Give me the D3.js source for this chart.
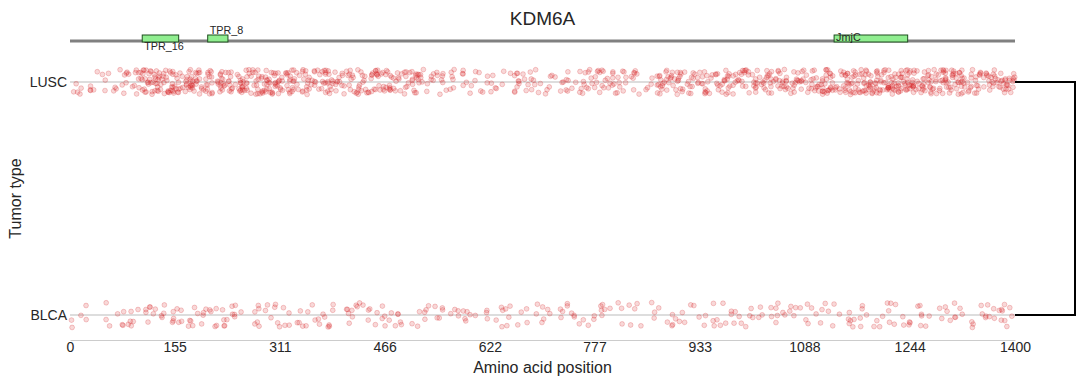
<!DOCTYPE html>
<html>
<head>
<meta charset="utf-8">
<script src="https://cdn.jsdelivr.net/npm/d3@7"></script>
<style>
  body { margin: 0; background: #fff; }
  svg text { font-family: "Liberation Sans", Arial, sans-serif; fill: #262626; }
</style>
</head>
<body>
<div id="chartDiv"></div>
<script>
//----------------------------------------------------------------------------------------------------
// data: mutation counts per 20-aa bin, for each tumour type
var geneName = "KDM6A";
var proteinLength = 1400;
var binSize = 20;
var tumorTypes = ["LUSC", "BLCA"];
var tickValues = [0, 155, 311, 466, 622, 777, 933, 1088, 1244, 1400];

var domainNames  = ["TPR_16", "TPR_8", "JmjC"];
var domainStarts = [107, 204, 1132];
var domainEnds   = [161, 234, 1241];

var luscCounts = [5, 4, 5, 6, 10, 22, 25, 23, 22, 20,
                  18, 23, 18, 22, 23, 20, 22, 16, 18, 18,
                  14, 16, 18, 18, 13, 18, 8, 8, 6, 8,
                  6, 5, 6, 10, 8, 6, 8, 6, 11, 13,
                  12, 10, 3, 14, 16, 15, 13, 15, 16, 15,
                  16, 18, 15, 16, 15, 18, 20, 23, 25, 25,
                  26, 25, 25, 23, 23, 21, 18, 16, 18, 20];

var blcaCounts = [3, 2, 3, 4, 5, 6, 6, 5, 6, 6,
                  6, 5, 6, 5, 4, 6, 4, 5, 5, 5,
                  6, 4, 5, 6, 5, 3, 4, 5, 4, 5,
                  4, 3, 5, 4, 3, 4, 5, 4, 4, 5,
                  4, 3, 2, 4, 5, 4, 3, 5, 5, 4,
                  4, 5, 6, 4, 5, 4, 4, 5, 5, 4,
                  5, 4, 5, 5, 4, 5, 4, 5, 5, 7];

//----------------------------------------------------------------------------------------------------
var width = 1087;
var height = 385;
var left = 70, right = 1015;

var xScale = d3.scaleLinear().domain([0, proteinLength]).range([left, right]);
var yScale = d3.scalePoint().domain(tumorTypes).range([82, 315]);

var svg = d3.select("#chartDiv").append("svg")
    .attr("width", width)
    .attr("height", height);

//----------------------------------------------------------------------------------------------------
function scatter(k, seed)
{
   // fixed hash in [0,1): only used to lay points out inside a bin and jitter them vertically
   var s = Math.sin(k * 12.9898 + seed * 78.233) * 43758.5453;
   return s - Math.floor(s);

} // scatter
//----------------------------------------------------------------------------------------------------
function pointsFromCounts(counts, tumor, seed)
{
   var pts = [];
   var k = 0;
   for(var b = 0; b < counts.length; b++){
      for(var j = 0; j < counts[b]; j++){
         k++;
         pts.push({tumor: tumor,
                   pos: b * binSize + scatter(k, seed) * binSize,
                   jitter: (scatter(k, seed + 1.7) - 0.5) * 2});
         }
      }
   return pts;

} // pointsFromCounts
//----------------------------------------------------------------------------------------------------

svg.append("text")
   .attr("x", (left + right) / 2)
   .attr("y", 25)
   .attr("text-anchor", "middle")
   .style("font-size", "19px")
   .text(geneName);

  // protein backbone and domains
svg.append("line")
   .attr("x1", xScale(0)).attr("x2", xScale(proteinLength))
   .attr("y1", 41).attr("y2", 41)
   .attr("stroke", "#808080")
   .attr("stroke-width", 3);

var domains = domainNames.map(function(n, i){
   return {name: n, start: domainStarts[i], end: domainEnds[i]};
   });

svg.selectAll("rect.domain")
   .data(domains)
   .enter()
   .append("rect")
   .attr("class", "domain")
   .attr("x", function(d){ return xScale(d.start); })
   .attr("width", function(d){ return xScale(d.end) - xScale(d.start); })
   .attr("y", 35)
   .attr("height", 7)
   .attr("fill", "#90ee90")
   .attr("stroke", "#1f4f1f")
   .attr("stroke-width", 1);

var labelY = {"TPR_16": 50, "TPR_8": 34, "JmjC": 41};
svg.selectAll("text.domainLabel")
   .data(domains)
   .enter()
   .append("text")
   .attr("class", "domainLabel")
   .attr("x", function(d){ return xScale(d.start) + 2; })
   .attr("y", function(d){ return labelY[d.name]; })
   .style("font-size", "10.8px")
   .text(function(d){ return d.name; });

  // row reference lines
svg.selectAll("line.rowLine")
   .data(tumorTypes)
   .enter()
   .append("line")
   .attr("class", "rowLine")
   .attr("x1", left).attr("x2", right)
   .attr("y1", function(d){ return yScale(d); })
   .attr("y2", function(d){ return yScale(d); })
   .attr("stroke", "#bbbbbb")
   .attr("stroke-width", 1);

  // mutation points
var allPoints = pointsFromCounts(luscCounts, "LUSC", 1).concat(pointsFromCounts(blcaCounts, "BLCA", 5));

svg.append("g")
   .selectAll("circle")
   .data(allPoints)
   .enter()
   .append("circle")
   .attr("cx", function(d){ return xScale(d.pos); })
   .attr("cy", function(d){ return yScale(d.tumor) + d.jitter * 12.5; })
   .attr("r", 2.4)
   .attr("fill", "rgba(214,39,40,0.18)")
   .attr("stroke", "rgba(214,39,40,0.3)")
   .attr("stroke-width", 0.8);

  // x axis
var xAxis = d3.axisBottom(xScale)
    .tickValues(tickValues)
    .tickFormat(d3.format("d"))
    .tickSize(0)
    .tickPadding(2);

var gx = svg.append("g")
   .attr("transform", "translate(0,340)")
   .call(xAxis);
gx.select(".domain").attr("stroke", "#cccccc");
gx.selectAll("text").style("font-size", "14px").attr("fill", "#262626");

  // y axis labels
svg.selectAll("text.rowLabel")
   .data(tumorTypes)
   .enter()
   .append("text")
   .attr("class", "rowLabel")
   .attr("x", 67)
   .attr("y", function(d){ return yScale(d) + 5; })
   .attr("text-anchor", "end")
   .style("font-size", "14px")
   .text(function(d){ return d; });

svg.append("text")
   .attr("x", (left + right) / 2)
   .attr("y", 373)
   .attr("text-anchor", "middle")
   .style("font-size", "16px")
   .text("Amino acid position");

svg.append("text")
   .attr("transform", "translate(21," + ((yScale("LUSC") + yScale("BLCA")) / 2) + ") rotate(-90)")
   .attr("text-anchor", "middle")
   .style("font-size", "16px")
   .text("Tumor type");

  // dendrogram linking the two tumour types
svg.append("path")
   .attr("d", "M" + right + "," + yScale("LUSC") + "H1075V" + yScale("BLCA") + "H" + right)
   .attr("fill", "none")
   .attr("stroke", "#000")
   .attr("stroke-width", 2);

</script>
</body>
</html>
